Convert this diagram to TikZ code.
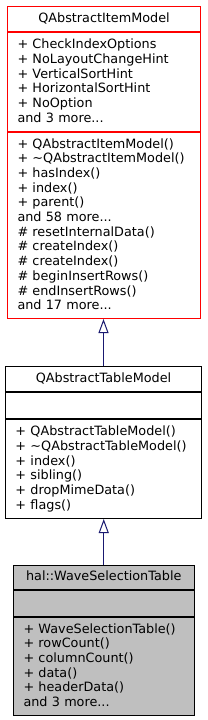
\documentclass[tikz,border=0pt]{standalone}
\usepackage{fontspec}
\setmainfont{DejaVu Sans}
\usetikzlibrary{arrows.meta,positioning}
\definecolor{edgeblue}{RGB}{25,25,112}
\definecolor{currentgrey}{RGB}{191,191,191}

\begin{document}
\begin{tikzpicture}[x=1pt,y=-1pt,
  part/.style={draw,line width=1pt,inner xsep=10pt,inner ysep=0pt,anchor=north west,
    font=\fontsize{12.8}{14.7}\selectfont,execute at end node={\rule[-3pt]{0pt}{0pt}}},
  itembox/.style={part,draw=red,minimum width=193pt,text width=173pt},
  tablebox/.style={part,minimum width=196pt,text width=176pt},
  wavebox/.style={part,fill=currentgrey,minimum width=180.5pt,text width=160.5pt},
  inherit/.style={edgeblue,line width=1pt,-{Triangle[open,length=14pt,width=10pt,fill=white]}}]
  \useasboundingbox (0,0) rectangle (207,720);
  \node[itembox,align=center,minimum height=25pt] (itemtitle) at (7,6) {QAbstractItemModel};
  \node[itembox,align=left,minimum height=99pt,below=0pt of itemtitle] (itemattr)
    {+ CheckIndexOptions\\+ NoLayoutChangeHint\\+ VerticalSortHint\\+ HorizontalSortHint\\+ NoOption\\and 3 more...};
  \node[itembox,align=left,minimum height=186pt,below=0pt of itemattr] (itemops)
    {+ QAbstractItemModel()\\+ \textasciitilde QAbstractItemModel()\\+ hasIndex()\\+ index()\\+ parent()\\and 58 more...\\\# resetInternalData()\\\# createIndex()\\\# createIndex()\\\# beginInsertRows()\\\# endInsertRows()\\and 17 more...};

  \node[tablebox,align=center,minimum height=25pt] (tabletitle) at (5,366) {QAbstractTableModel};
  \node[tablebox,minimum height=26pt,below=0pt of tabletitle] (tableattr) {};
  \node[tablebox,align=left,minimum height=99pt,below=0pt of tableattr] (tableops)
    {+ QAbstractTableModel()\\+ \textasciitilde QAbstractTableModel()\\+ index()\\+ sibling()\\+ dropMimeData()\\+ flags()};

  \node[wavebox,align=center,minimum height=24pt] (wavetitle) at (13,565) {hal::WaveSelectionTable};
  \node[wavebox,minimum height=26pt,below=0pt of wavetitle] (waveattr) {};
  \node[wavebox,align=left,minimum height=98pt,below=0pt of waveattr] (waveops)
    {+ WaveSelectionTable()\\+ rowCount()\\+ columnCount()\\+ data()\\+ headerData()\\and 3 more...};

  \draw[inherit] (tabletitle.north) -- (tabletitle.north |- itemops.south);
  \draw[inherit] (wavetitle.north) -- (wavetitle.north |- tableops.south);
\end{tikzpicture}
\end{document}
